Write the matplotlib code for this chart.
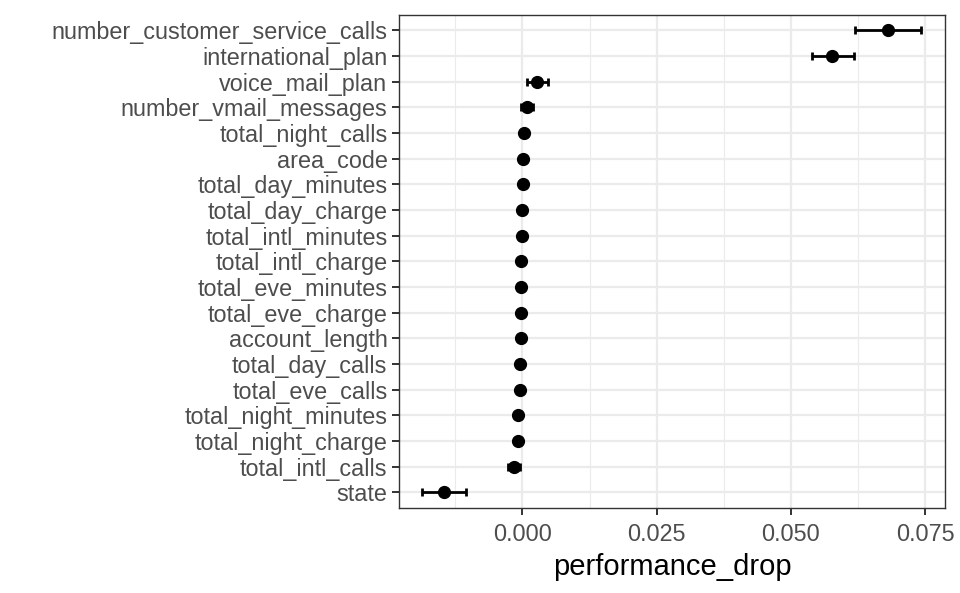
import matplotlib.pyplot as plt
import numpy as np

plt.rcParams['font.family'] = ['Liberation Sans', 'DejaVu Sans']

# variables from top to bottom as on the chart
variables = ["number_customer_service_calls", "international_plan", "voice_mail_plan",
             "number_vmail_messages", "total_night_calls", "area_code",
             "total_day_minutes", "total_day_charge", "total_intl_minutes",
             "total_intl_charge", "total_eve_minutes", "total_eve_charge",
             "account_length", "total_day_calls", "total_eve_calls",
             "total_night_minutes", "total_night_charge", "total_intl_calls", "state"]
drop_mean = [0.0681, 0.0577, 0.0027, 0.0008, 0.0002, 0.0001, 0.0001, 0.0000, -0.0001,
             -0.0002, -0.0002, -0.0003, -0.0003, -0.0004, -0.0004, -0.0008, -0.0009,
             -0.0016, -0.0147]
drop_low = [0.0620, 0.0539, 0.0008, -0.0003, 0.0001, 0.0000, 0.0000, -0.0001, -0.0002,
            -0.0003, -0.0003, -0.0004, -0.0004, -0.0005, -0.0005, -0.0009, -0.0010,
            -0.0027, -0.0187]
drop_high = [0.0743, 0.0617, 0.0047, 0.0019, 0.0003, 0.0002, 0.0002, 0.0001, 0.0000,
             -0.0001, -0.0001, -0.0002, -0.0002, -0.0003, -0.0003, -0.0007, -0.0008,
             -0.0005, -0.0105]
x_ticks = [0.000, 0.025, 0.050, 0.075]

fig = plt.figure(figsize=(9.6, 5.93), dpi=100)
ax = fig.add_axes([0.4156, 0.1438, 0.5688, 0.8309])

n = len(variables)
y = np.arange(n)[::-1]
mean = np.array(drop_mean)
err = [mean - np.array(drop_low), np.array(drop_high) - mean]

ax.errorbar(mean, y, xerr=err, fmt='none', ecolor='black', elinewidth=2,
            capsize=3, capthick=2, zorder=3)
ax.plot(mean, y, 'o', color='black', markersize=8.5, zorder=4)

ax.set_xlim(-0.0230, 0.0787)
ax.set_ylim(-0.6, n - 1 + 0.6)
ax.set_yticks(y)
ax.set_yticklabels(variables)
ax.set_xticks(x_ticks)
ax.set_xticklabels([f"{v:.3f}" for v in x_ticks])
ax.set_xticks([-0.0125, 0.0125, 0.0375, 0.0625], minor=True)

ax.grid(True, which='major', color='#EBEBEB', linewidth=1.6, zorder=0)
ax.grid(True, which='minor', axis='x', color='#EBEBEB', linewidth=0.8, zorder=0)
ax.set_axisbelow(True)

for s in ax.spines.values():
    s.set_color('#333333')
    s.set_linewidth(1.0)

ax.tick_params(axis='both', which='major', colors='#333333', length=5.3, width=1.4,
               labelsize=16.8, labelcolor='#4D4D4D', pad=3)
ax.tick_params(axis='x', which='major', pad=5.5)
ax.tick_params(axis='both', which='minor', length=0)
ax.set_xlabel("performance_drop", fontsize=21, color='black', labelpad=5)

fig.savefig("out.png", dpi=100)
